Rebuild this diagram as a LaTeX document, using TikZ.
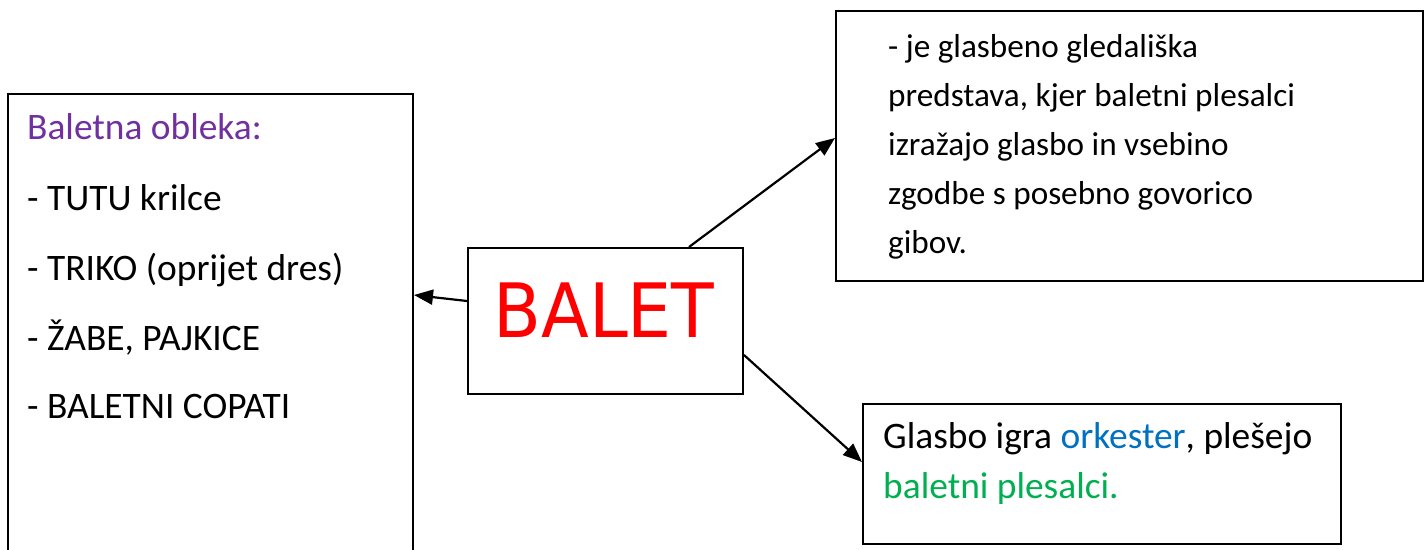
\documentclass[tikz,border=0pt]{standalone}
\usepackage{fontspec}
\setmainfont{Carlito}
\newfontfamily\baletfont{DejaVu Sans}
\usetikzlibrary{arrows.meta}
\definecolor{purp}{HTML}{7030A0}
\definecolor{blu}{HTML}{0070C0}
\definecolor{grn}{HTML}{00B050}
\definecolor{redt}{HTML}{FF0000}
\tikzset{
  box/.style={draw=black, line width=2pt, fill=none, inner sep=0pt, anchor=north west},
  arr/.style={line width=2.2pt, arrows={-Triangle[length=19pt,width=15pt]}},
  bigtxt/.style={anchor=base west, inner sep=0pt, font=\fontsize{37.4}{44}\selectfont},
  midtxt/.style={anchor=base west, inner sep=0pt, font=\fontsize{33.2}{40}\selectfont},
}
\begin{document}
\begin{tikzpicture}[x=1pt,y=-1pt]
\useasboundingbox (0,0) rectangle (1427,549);
% boxes
\node[box, minimum width=405pt, minimum height=500pt] (dress) at (7,93) {};
\node[box, minimum width=275pt, minimum height=146pt] (b) at (467,247) {};
\node[box, minimum width=587pt, minimum height=270pt] (t) at (835,10) {};
\node[box, minimum width=478pt, minimum height=140pt] (g) at (862,403) {};
% BALET
\node[anchor=base, inner sep=0pt, text=redt, font=\baletfont\fontsize{75}{80}\selectfont] (balet) at (604,337) {\scalebox{0.93}[1]{BALET}};
% left text
\node[bigtxt, text=purp] (l0) at (27,139) {Baletna obleka:};
\node[bigtxt] (l1) at (27,210) {- TUTU krilce};
\node[bigtxt] (l2) at (27,280) {- TRIKO (oprijet dres)};
\node[bigtxt] (l3) at (27,350) {- ŽABE, PAJKICE};
\node[bigtxt] (l4) at (27,418) {- BALETNI COPATI};
% top right text
\node[midtxt] (t1) at (888,57) {- je glasbeno gledališka};
\node[midtxt] (t2) at (888,106) {predstava, kjer baletni plesalci};
\node[midtxt] (t3) at (888,155) {izražajo glasbo in vsebino};
\node[midtxt] (t4) at (888,204) {zgodbe s posebno govorico};
\node[midtxt] (t5) at (888,253) {gibov.};
% bottom right text
\node[bigtxt] (g1) at (883,448) {Glasbo igra \textcolor{blu}{orkester}, plešejo};
\node[bigtxt, text=grn] (g2) at (883,498) {baletni plesalci.};
% arrows
\draw[arr] ([yshift=20pt]b.west) -- (dress.east |- 0,295);
\draw[arr] ([xshift=83.5pt]b.north) -- ([yshift=8pt]t.west);
\draw[arr] ([yshift=-34pt]b.east) -- ([yshift=12pt]g.west);
\end{tikzpicture}
\end{document}
